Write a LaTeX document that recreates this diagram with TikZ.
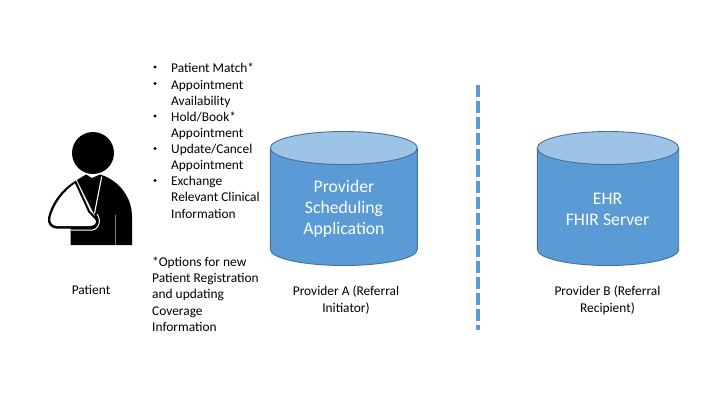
\documentclass[tikz,border=0pt]{standalone}
\usepackage{fontspec}
\setmainfont{Carlito}
\definecolor{cylbody}{HTML}{5B9BD5}
\definecolor{cyltop}{HTML}{9DC3E6}
\definecolor{cylline}{HTML}{41719C}
\tikzset{
  cylpart/.style={draw=cylline,line width=0.9pt},
  lbl/.style={font=\fontsize{13.4}{16.1}\selectfont,align=left,inner sep=0pt,anchor=north west},
  lbltwo/.style={font=\fontsize{13.4}{16.3}\selectfont,align=left,inner sep=0pt,anchor=north west},
  lblc/.style={font=\fontsize{13.4}{16.6}\selectfont,align=center,inner sep=0pt},
  cyltext/.style={font=\fontsize{17.7}{21}\selectfont,align=center,text=white,inner sep=0pt},
  bul/.style={circle,fill=black,inner sep=0pt,minimum size=3.4pt}
}
\begin{document}
\begin{tikzpicture}[x=1pt,y=-1pt]
\useasboundingbox (0,0) rectangle (720,405);
% patient icon
\fill (93,153) circle (21);
\fill (77,180) .. controls (80,178) and (83,176.5) .. (86,174.5) -- (92,178) -- (100,174.5) -- (103,175.5)
  .. controls (118,181) and (132,196) .. (132,217) -- (132,245) -- (70.7,245) -- (70.7,228) -- (95,216) -- cycle;
% halo below the sling
\draw[white,line width=1pt] (97,214) .. controls (100,218) and (100,223) .. (98,226) .. controls (96,229) and (94,230.2) .. (90,230.2) -- (70.7,230.2);
% sling
\fill[black] (76,180.5)
  .. controls (65,187) and (52,200) .. (48,218)
  .. controls (47,224) and (51,228.6) .. (57,228.6) -- (90,228.6)
  .. controls (97,228.6) and (100,222) .. (96,217.5) -- (90,211) -- cycle;
\fill[white] (75,183.5) .. controls (65,190) and (54,203) .. (50.3,218)
  .. controls (49.5,222.5) and (53,226) .. (57,226) -- (90,226)
  .. controls (95,226) and (97.5,222) .. (95,219.3) -- (88.3,212.5) -- cycle;
% strap and torso line
\draw[white,line width=1.1pt] (101.7,176.5) -- (94.5,213.5);
\draw[gray,line width=0.3pt] (115.5,215) -- (115.5,245);
% bullets
\foreach \y in {67,83.5,116,148.5,180.5} \node[bul] at (155,\y) {};
\node[lbl] (first) at (171,63) {Patient Match*};
\node[lbl] (list) at (171,79.8) {Appointment\\Availability\\Hold/Book*\\Appointment\\Update/Cancel\\Appointment\\Exchange\\Relevant Clinical\\Information};
\node[lbltwo] (opts) at (152,256.5) {*Options for new\\Patient Registration\\and updating\\Coverage\\Information};
\node[lblc] (patient) at (91,290) {Patient};
% cylinders
\foreach \cx/\rx in {343.8/73.5,608/70.7}{
  \fill[cylbody] (\cx-\rx,148) -- (\cx-\rx,249.5) arc[x radius=\rx,y radius=16,start angle=180,end angle=0] -- (\cx+\rx,148) -- cycle;
  \draw[cylpart] (\cx-\rx,148) -- (\cx-\rx,249.5) arc[x radius=\rx,y radius=16,start angle=180,end angle=0] -- (\cx+\rx,148);
  \draw[cylpart,fill=cyltop] (\cx,148) ellipse[x radius=\rx,y radius=16.5];
}
\node[cyltext] (psa) at (344,209) {Provider\\Scheduling\\Application};
\node[cyltext] (ehr) at (607.5,209) {EHR\\FHIR Server};
\node[lblc] (pa) at (346,300) {Provider A (Referral\\Initiator)};
\node[lblc] (pb) at (607.5,300) {Provider B (Referral\\Recipient)};
% divider
\coordinate (dtop) at (478,85);
\coordinate (dbot) at (478,330);
\draw[color=cylbody,line width=4pt,dash pattern=on 12pt off 4pt] (dtop) -- (dbot);
\end{tikzpicture}
\end{document}
